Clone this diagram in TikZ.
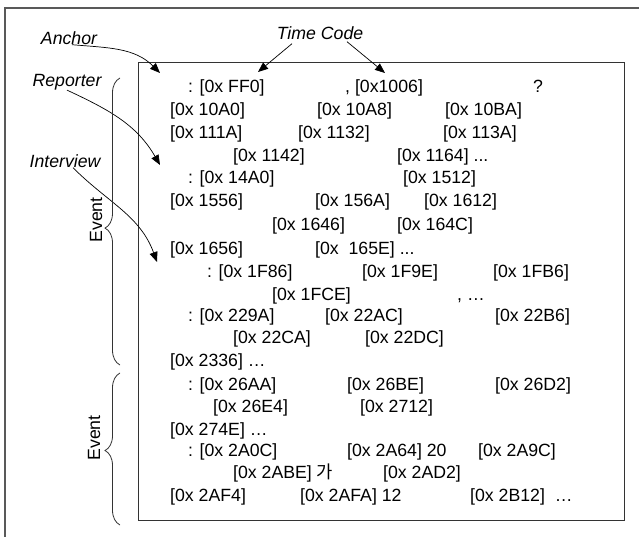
\documentclass[tikz,border=0pt]{standalone}
\usepackage{fontspec}
\setmainfont{Liberation Sans}
\newfontfamily\krfont{Noto Sans CJK KR}
\usetikzlibrary{arrows.meta,decorations.pathreplacing}

\begin{document}
\begin{tikzpicture}[
    x=1pt, y=-1pt,
    code/.style={anchor=base west, inner sep=0pt, font=\fontsize{17.7}{20}\selectfont},
    tag/.style={inner sep=0pt, font=\fontsize{17.7}{20}\selectfont\itshape},
    pointer/.style={-{Triangle[length=10pt,width=8pt]}, line width=0.7pt},
    evbrace/.style={decorate, decoration={brace, amplitude=15pt, aspect=#1}, line width=0.8pt, gray!40!black},
    frame/.style={draw=gray!70!black, line width=1.2pt}
]
\useasboundingbox (0,0) rectangle (639,537);

% frames
\draw[frame] (5,537) -- (5,8) -- (639,8);
\draw[draw=black!80, line width=1pt] (138,63) rectangle (624,520);

% labels
\node[tag] (anchor) at (69,38) {Anchor};
\node[tag] (timecode) at (320,33) {Time Code};
\node[tag] (reporter) at (67,82) {Reporter};
\node[tag] (interview) at (65,161) {Interview};

% arrow tips
\coordinate (anchortip) at (160,73);
\coordinate (tctip1) at (258,72);
\coordinate (tctip2) at (385,73);
\coordinate (reptip) at (160,165);
\coordinate (inttip) at (157,262);

\draw[pointer] ([xshift=3pt]anchor.south) to[out=-5,in=135] (anchortip);
\draw[pointer] ([xshift=-28pt,yshift=-4pt]timecode.south) -- (tctip1);
\draw[pointer] ([xshift=27pt,yshift=-2pt]timecode.south) -- (tctip2);
\draw[pointer] (reporter.south) to[out=-25,in=120] (reptip);
\draw[pointer] ([xshift=8pt]interview.south) to[out=-45,in=110] (inttip);

% braces
\draw[evbrace=0.477] (120,365) -- (120,78);
\draw[evbrace=0.49] (120,525) -- (120,373);
\node[code, anchor=center, rotate=90] (event1) at (96,220) {Event};
\node[code, anchor=center, rotate=90] (event2) at (94,438) {Event};

% row 1
\node[code] (r1a) at (188,93) {: [0x FF0]};
\node[code] (r1b) at (345,93) {, [0x1006]};
\node[code] (r1c) at (533,93) {?};
% row 2
\node[code] (r2a) at (170,116) {[0x 10A0]};
\node[code] (r2b) at (317,116) {[0x 10A8]};
\node[code] (r2c) at (445,116) {[0x 10BA]};
% row 3
\node[code] (r3a) at (170,139) {[0x 111A]};
\node[code] (r3b) at (298,139) {[0x 1132]};
\node[code] (r3c) at (443,139) {[0x 113A]};
% row 4
\node[code] (r4a) at (233,162) {[0x 1142]};
\node[code] (r4b) at (397,162) {[0x 1164] ...};
% row 5
\node[code] (r5a) at (188,184) {: [0x 14A0]};
\node[code] (r5b) at (403,184) {[0x 1512]};
% row 6
\node[code] (r6a) at (170,207) {[0x 1556]};
\node[code] (r6b) at (315,207) {[0x 156A]};
\node[code] (r6c) at (424,207) {[0x 1612]};
% row 7
\node[code] (r7a) at (272,230) {[0x 1646]};
\node[code] (r7b) at (397,230) {[0x 164C]};
% row 8
\node[code] (r8a) at (170,254) {[0x 1656]};
\node[code] (r8b) at (315,254) {[0x\ \ 165E] ...};
% row 9
\node[code] (r9a) at (207,277) {: [0x 1F86]};
\node[code] (r9b) at (362,277) {[0x 1F9E]};
\node[code] (r9c) at (493,277) {[0x 1FB6]};
% row 10
\node[code] (r10a) at (272,300) {[0x 1FCE]};
\node[code] (r10b) at (457,300) {, …};
% row 11
\node[code] (r11a) at (188,321) {: [0x 229A]};
\node[code] (r11b) at (325,321) {[0x 22AC]};
\node[code] (r11c) at (495,321) {[0x 22B6]};
% row 12
\node[code] (r12a) at (233,343) {[0x 22CA]};
\node[code] (r12b) at (365,343) {[0x 22DC]};
% row 13
\node[code] (r13a) at (170,366) {[0x 2336] …};
% row 14
\node[code] (r14a) at (188,390) {: [0x 26AA]};
\node[code] (r14b) at (347,390) {[0x 26BE]};
\node[code] (r14c) at (495,390) {[0x 26D2]};
% row 15
\node[code] (r15a) at (213,412) {[0x 26E4]};
\node[code] (r15b) at (360,412) {[0x 2712]};
% row 16
\node[code] (r16a) at (170,435) {[0x 274E] …};
% row 17
\node[code] (r17a) at (188,456) {: [0x 2A0C]};
\node[code] (r17b) at (347,456) {[0x 2A64] 20};
\node[code] (r17c) at (478,456) {[0x 2A9C]};
% row 18
\node[code] (r18a) at (233,478) {[0x 2ABE] {\krfont 가}};
\node[code] (r18b) at (383,478) {[0x 2AD2]};
% row 19
\node[code] (r19a) at (170,501) {[0x 2AF4]};
\node[code] (r19b) at (300,501) {[0x 2AFA] 12};
\node[code] (r19c) at (470,501) {[0x 2B12]\ \ …};

\end{tikzpicture}
\end{document}
